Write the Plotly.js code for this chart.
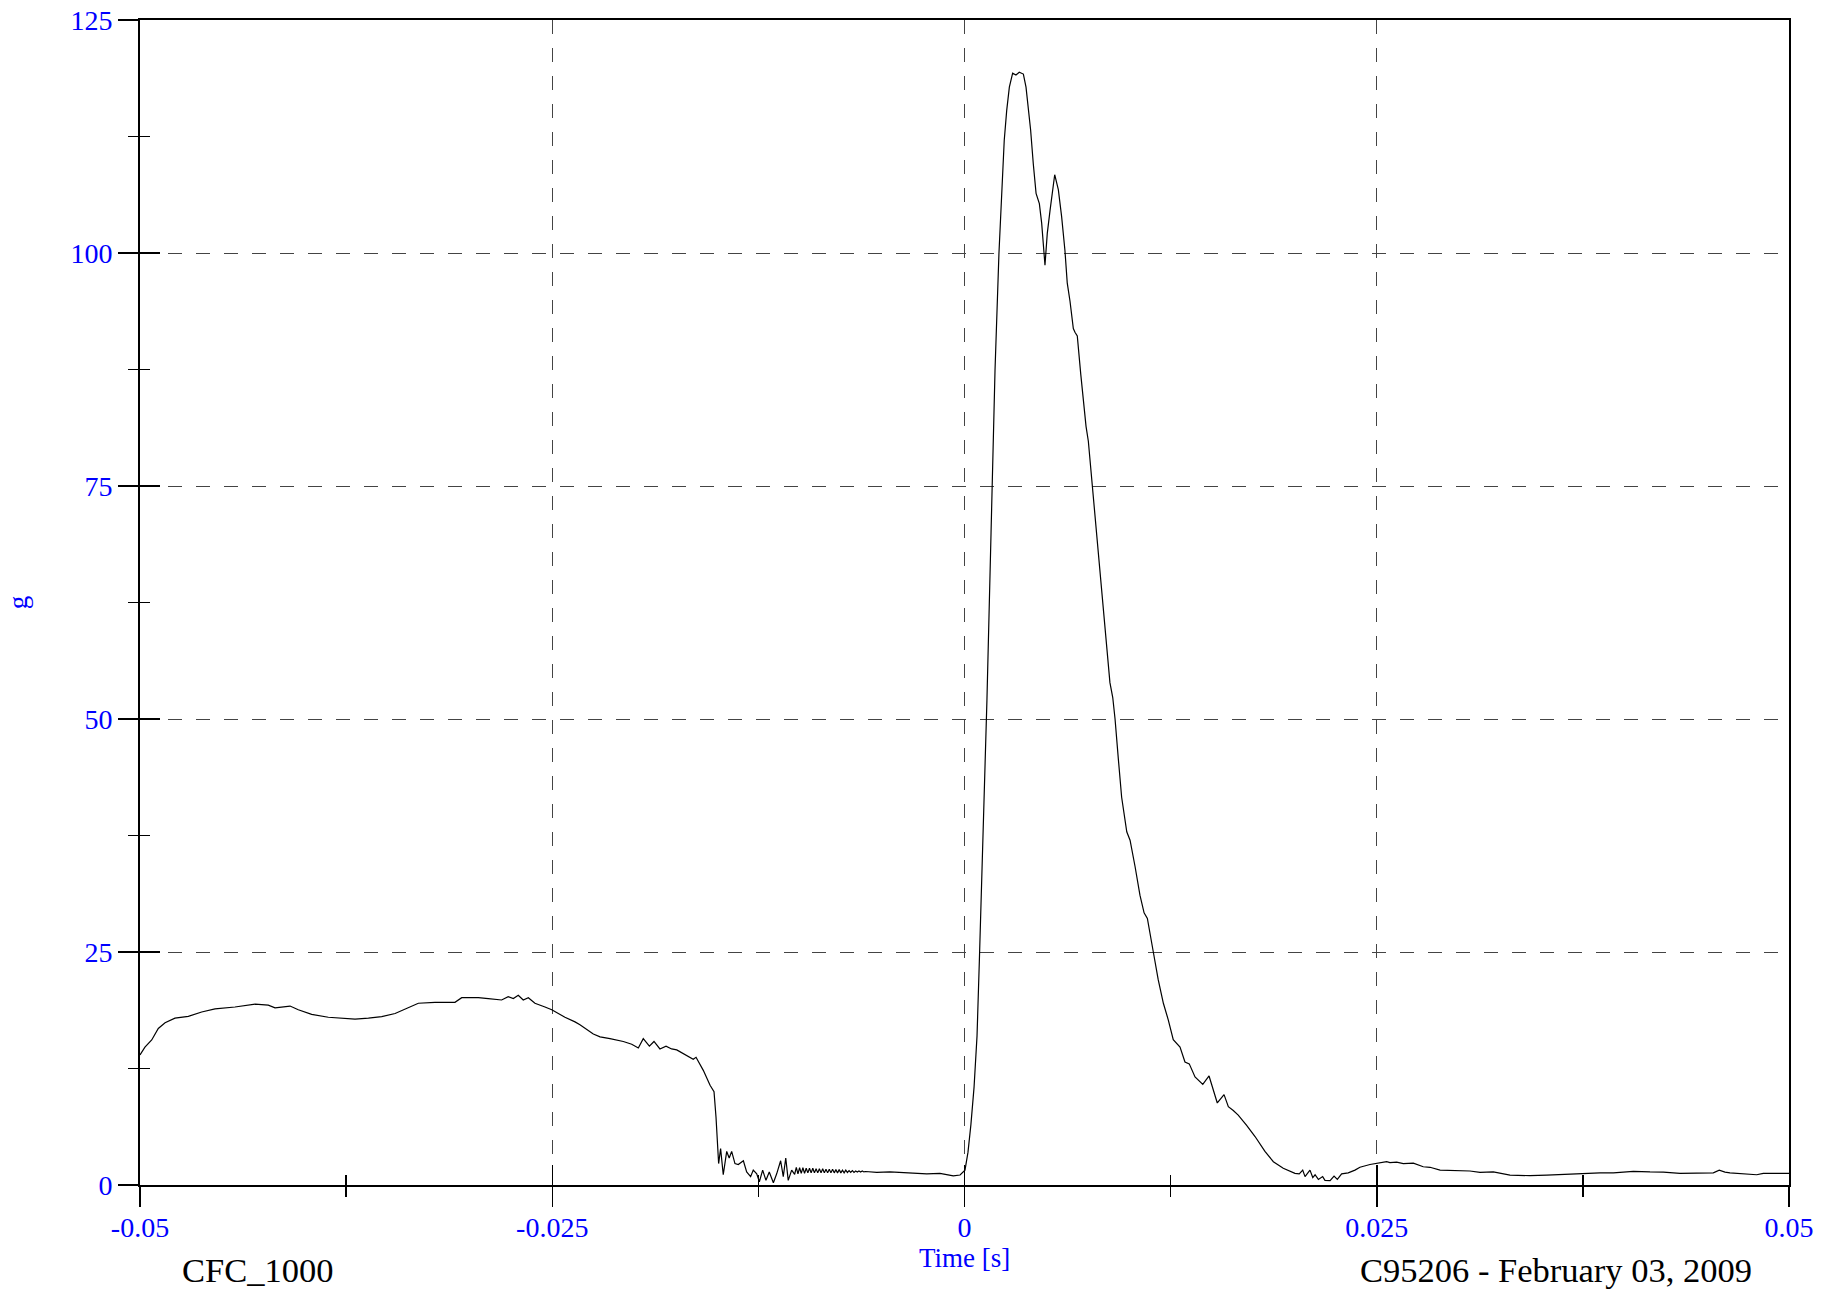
<!DOCTYPE html>
<html>
<head>
<meta charset="utf-8">
<script src="https://cdn.plot.ly/plotly-3.0.1.min.js"></script>
<style>html,body{margin:0;padding:0;background:#fff;}#chart{width:1839px;height:1293px;}</style>
</head>
<body>
<div id="chart"></div>
<script>
// Time (s) and acceleration (g)
const timeS = [
 -0.05000,-0.04970,-0.04929,-0.04889,-0.04848,-0.04788,-0.04707,-0.04626,-0.04545,-0.04424,
 -0.04302,-0.04222,-0.04181,-0.04130,-0.04090,-0.04040,-0.03959,-0.03858,-0.03777,-0.03696,
 -0.03615,-0.03534,-0.03453,-0.03373,-0.03312,-0.03211,-0.03090,-0.03049,-0.02948,-0.02888,
 -0.02807,-0.02767,-0.02736,-0.02706,-0.02676,-0.02645,-0.02605,-0.02544,-0.02503,-0.02463,
 -0.02423,-0.02362,-0.02332,-0.02251,-0.02210,-0.02150,-0.02069,-0.02018,-0.01978,-0.01948,
 -0.01911,-0.01883,-0.01847,-0.01810,-0.01776,-0.01745,-0.01685,-0.01645,-0.01628,-0.01584,
 -0.01543,-0.01519,-0.01507,-0.01491,-0.01479,-0.01463,-0.01442,-0.01427,-0.01412,-0.01392,
 -0.01372,-0.01341,-0.01321,-0.01297,-0.01281,-0.01260,-0.01244,-0.01224,-0.01204,-0.01184,
 -0.01159,-0.01139,-0.01115,-0.01099,-0.01084,-0.01069,-0.01048,
 -0.0103,-0.0102,-0.0101,-0.0100,-0.0099,-0.0098,-0.0097,-0.0096,-0.0095,-0.0094,
 -0.0093,-0.0092,-0.0091,-0.0090,-0.0089,-0.0088,-0.0087,-0.0086,-0.0085,-0.0084,
 -0.0083,-0.0082,-0.0081,-0.0080,-0.0079,-0.0078,-0.0077,-0.0076,-0.0075,-0.0074,
 -0.0073,-0.0072,-0.0071,-0.0070,-0.0069,-0.0068,-0.0067,-0.0066,-0.0065,-0.0064,
 -0.0063,-0.0062,-0.0061,-0.0060,
 -0.00532,-0.00452,-0.00361,-0.00229,-0.00149,-0.00068,-0.00027,0.00003,0.00021,0.00039,
 0.00058,0.00076,0.00090,0.00112,0.00136,0.00161,0.00185,0.00209,0.00226,0.00241,
 0.00256,0.00272,0.00292,0.00312,0.00332,0.00357,0.00373,0.00387,0.00401,0.00417,
 0.00434,0.00454,0.00468,0.00488,0.00502,0.00519,0.00547,0.00569,0.00589,0.00609,
 0.00623,0.00640,0.00660,0.00670,0.00684,0.00705,0.00720,0.00737,0.00751,0.00775,
 0.00802,0.00822,0.00842,0.00862,0.00882,0.00899,0.00913,0.00933,0.00953,0.00984,
 0.01004,0.01034,0.01064,0.01089,0.01109,0.01145,0.01175,0.01206,0.01236,0.01266,
 0.01307,0.01337,0.01363,0.01398,0.01445,0.01483,0.01505,0.01533,0.01574,0.01600,
 0.01630,0.01660,0.01711,0.01762,0.01822,0.01873,0.01933,0.02004,0.02030,0.02051,
 0.02065,0.02081,0.02095,0.02112,0.02126,0.02146,0.02172,0.02186,0.02217,0.02241,
 0.02261,0.02287,0.02327,0.02368,0.02398,0.02459,0.02503,0.02560,0.02580,0.02621,
 0.02661,0.02722,0.02782,0.02823,0.02884,0.02944,0.03005,0.03065,0.03126,0.03207,
 0.03308,0.03429,0.03531,0.03631,0.03753,0.03854,0.03935,0.04056,0.04157,0.04238,
 0.04339,0.04480,0.04541,0.04577,0.04612,0.04642,0.04743,0.04804,0.04844,0.04925,
 0.05000
];
const accelG = [
 13.95,14.8,15.56,16.8,17.4,17.9,18.1,18.56,18.9,19.1,
 19.4,19.3,19.0,19.15,19.2,18.8,18.3,18.0,17.9,17.8,
 17.9,18.06,18.4,19.0,19.5,19.6,19.6,20.1,20.1,20.0,
 19.85,20.2,20.0,20.35,19.85,20.1,19.5,19.1,18.8,18.4,
 18.0,17.5,17.2,16.2,15.9,15.7,15.4,15.1,14.7,15.7,
 14.9,15.4,14.6,14.9,14.6,14.5,13.95,13.5,13.7,12.3,
 10.7,10.0,7.3,2.3,3.9,1.1,3.6,2.9,3.6,2.3,
 2.2,2.6,1.4,0.9,1.6,1.2,0.35,1.6,0.5,1.4,
 0.25,1.2,2.6,0.9,2.9,0.5,1.6,
 1.15,1.9,1.2,1.85,1.25,1.85,1.25,1.8,1.3,1.8,
 1.3,1.8,1.3,1.75,1.3,1.75,1.3,1.75,1.3,1.7,
 1.3,1.7,1.3,1.7,1.3,1.65,1.3,1.65,1.3,1.6,
 1.3,1.6,1.35,1.55,1.35,1.55,1.35,1.5,1.4,1.5,
 1.4,1.5,1.4,1.45,
 1.35,1.4,1.35,1.2,1.25,0.97,1.07,1.6,3.5,6.5,
 10.5,16,24,37,52,70,87.4,100,107.5,112.1,
 115.3,117.8,119.3,119.1,119.4,119.2,117.8,115.7,113.2,109.6,
 106.4,105.3,103.2,98.7,102.1,104.6,108.4,106.8,103.9,100.3,
 96.8,94.8,91.9,91.5,91.1,87.0,84.3,81.4,79.8,75.0,
 70.3,66.2,62.1,58.0,53.9,52.3,50.0,45.7,41.6,37.9,
 37.0,34.2,31.1,29.2,28.6,25.0,22.0,19.5,17.7,15.6,
 14.8,13.2,13.0,11.6,10.8,11.7,10.4,8.8,9.7,8.4,
 8.0,7.5,6.4,5.2,3.6,2.5,1.8,1.25,1.2,1.6,
 0.9,1.3,1.6,0.8,1.1,0.6,0.9,0.5,0.46,0.96,
 0.6,1.2,1.3,1.6,1.9,2.2,2.3,2.5,2.4,2.45,
 2.3,2.35,1.96,1.9,1.6,1.55,1.47,1.5,1.35,1.4,
 1.07,1.0,1.05,1.15,1.25,1.3,1.3,1.47,1.4,1.38,
 1.25,1.25,1.3,1.6,1.38,1.3,1.17,1.1,1.25,1.25,
 1.25
];
const xTickVals = [-0.05, -0.025, 0, 0.025, 0.05];
const xTickText = ['-0.05', '-0.025', '0', '0.025', '0.05'];
const xMinorVals = [-0.0375, -0.0125, 0.0125, 0.0375];
const yTickVals = [0, 25, 50, 75, 100, 125];
const yTickText = ['0', '25', '50', '75', '100', '125'];
const yMinorVals = [12.5, 37.5, 62.5, 87.5, 112.5];
const xRange = [-0.05, 0.05];
const yRange = [0, 125];
const xTitle = 'Time [s]';
const yTitle = 'g';
const footLeft = 'CFC_1000';
const footRight = 'C95206 - February 03, 2009';

const FONT = '"Liberation Serif", "Times New Roman", serif';
const BLUE = '#0000ff';

const traces = [
  {x: timeS, y: accelG, type: 'scatter', mode: 'lines',
   line: {color: '#000000', width: 1.2}, hoverinfo: 'x+y', showlegend: false},
  {x: [], y: [], xaxis: 'x2', yaxis: 'y2', type: 'scatter', mode: 'lines',
   hoverinfo: 'skip', showlegend: false}
];

const common = {
  tickcolor: '#000000', tickwidth: 1.5, ticklen: 20,
  showline: true, linecolor: '#000000', linewidth: 2,
  zeroline: false, fixedrange: true
};

const layout = {
  width: 1839, height: 1293,
  margin: {l: 140, r: 50, t: 20, b: 108},
  paper_bgcolor: '#ffffff', plot_bgcolor: '#ffffff',
  font: {family: FONT, color: '#000000'},
  showlegend: false,
  xaxis: Object.assign({}, common, {
    range: xRange, tickmode: 'array', tickvals: xTickVals, ticktext: xTickText,
    ticks: 'outside', mirror: true, ticklabelstandoff: -4,
    showgrid: true, gridcolor: '#444444', gridwidth: 1, griddash: '14px,14px',
    tickfont: {family: FONT, size: 28, color: BLUE},
    minor: {tickmode: 'array', tickvals: xMinorVals, ticks: 'outside', ticklen: 10,
            tickwidth: 1.5, tickcolor: '#000000', showgrid: false}
  }),
  yaxis: Object.assign({}, common, {
    range: yRange, tickmode: 'array', tickvals: yTickVals, ticktext: yTickText,
    ticks: 'outside', mirror: true,
    showgrid: true, gridcolor: '#444444', gridwidth: 1, griddash: '14px,14px',
    tickfont: {family: FONT, size: 28, color: BLUE},
    minor: {tickmode: 'array', tickvals: yMinorVals, ticks: 'outside', ticklen: 10,
            tickwidth: 1.5, tickcolor: '#000000', showgrid: false},
    title: {text: yTitle, font: {family: FONT, size: 27, color: BLUE}, standoff: 35}
  }),
  xaxis2: Object.assign({}, common, {
    overlaying: 'x', anchor: 'y2', side: 'bottom', range: xRange,
    tickmode: 'array', tickvals: xTickVals, ticks: 'inside', showticklabels: false,
    showline: false, showgrid: false,
    minor: {tickmode: 'array', tickvals: xMinorVals, ticks: 'inside', ticklen: 10,
            tickwidth: 1.5, tickcolor: '#000000', showgrid: false}
  }),
  yaxis2: Object.assign({}, common, {
    overlaying: 'y', anchor: 'x2', side: 'left', range: yRange,
    tickmode: 'array', tickvals: yTickVals, ticks: 'inside', showticklabels: false,
    showline: false, showgrid: false,
    minor: {tickmode: 'array', tickvals: yMinorVals, ticks: 'inside', ticklen: 10,
            tickwidth: 1.5, tickcolor: '#000000', showgrid: false}
  }),
  annotations: [
    {text: xTitle, xref: 'paper', yref: 'paper', x: 0.5, y: 0, xanchor: 'center', yanchor: 'middle',
     yshift: -73, borderpad: 0, showarrow: false, font: {family: FONT, size: 27, color: BLUE}},
    {text: footLeft, xref: 'paper', yref: 'paper', x: 0, y: 0, xanchor: 'center', yanchor: 'middle',
     xshift: 117, yshift: -85, showarrow: false, font: {family: FONT, size: 34.5, color: '#000000'}},
    {text: footRight, xref: 'paper', yref: 'paper', x: 1, y: 0, xanchor: 'center', yanchor: 'middle',
     xshift: -233, yshift: -85, showarrow: false, font: {family: FONT, size: 34.5, color: '#000000'}}
  ]
};

Plotly.newPlot('chart', traces, layout, {displayModeBar: false, staticPlot: true});
</script>
</body>
</html>
